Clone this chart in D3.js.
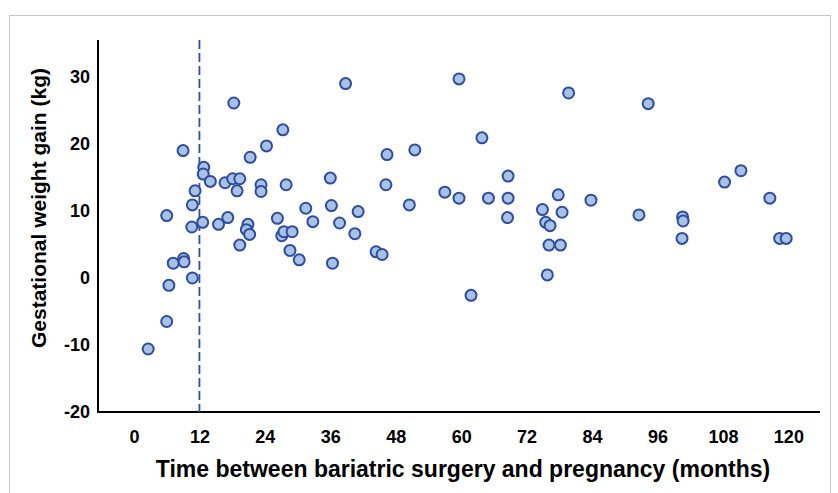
<!DOCTYPE html>
<html>
<head>
<meta charset="utf-8">
<script src="https://cdn.jsdelivr.net/npm/d3@7"></script>
<style>
  body { margin: 0; background: #fff; }
  .tick text { font-family: "Liberation Sans", Arial, sans-serif; font-weight: bold; }
</style>
</head>
<body>
<script>
// months between surgery and pregnancy
const months = [2.6, 6.0, 6.4, 6.0, 7.2, 9.0, 9.1, 9.2, 10.7, 10.7, 11.2, 10.6, 12.6, 12.8, 12.7, 14.0,
  15.5, 16.7, 17.2, 18.1, 19.4, 18.9, 18.3, 19.4, 20.9, 20.6, 21.2, 21.3, 23.3, 23.3, 24.3, 26.3,
  27.3, 27.9, 27.1, 27.5, 29.0, 28.6, 30.3, 31.5, 32.8, 36.0, 36.2, 36.4, 37.7, 38.8, 41.1, 40.5,
  44.4, 45.5, 46.4, 46.2, 50.5, 51.5, 57.0, 59.6, 59.6, 61.8, 63.8, 65.0, 68.6, 68.6, 68.5, 74.9,
  75.5, 76.3, 76.1, 75.8, 77.8, 78.5, 78.2, 79.7, 83.8, 92.6, 94.3, 100.6, 100.7, 100.5, 108.3,
  111.3, 116.6, 118.4, 119.6];
// gestational weight gain (kg)
const gain = [-10.6, -6.5, -1.1, 9.3, 2.2, 19.0, 2.9, 2.4, 0.0, 10.9, 13.0, 7.6, 8.3, 16.5, 15.5, 14.4,
  8.0, 14.2, 9.0, 14.8, 14.8, 13.0, 26.1, 4.9, 8.0, 7.2, 6.5, 18.0, 13.9, 12.9, 19.7, 8.9,
  22.1, 13.9, 6.3, 6.9, 6.9, 4.1, 2.7, 10.4, 8.4, 14.9, 10.8, 2.2, 8.2, 29.0, 9.9, 6.6,
  3.9, 3.5, 18.4, 13.9, 10.9, 19.1, 12.8, 29.7, 11.9, -2.6, 20.9, 11.9, 15.2, 11.9, 9.0, 10.2,
  8.3, 7.8, 4.9, 0.45, 12.4, 9.8, 4.9, 27.6, 11.6, 9.4, 26.0, 9.1, 8.5, 5.9, 14.3,
  16.0, 11.9, 5.9, 5.9];
const xTicks = [0, 12, 24, 36, 48, 60, 72, 84, 96, 108, 120];
const yTicks = [-20, -10, 0, 10, 20, 30];
const cutoff = 12;

const width = 838, height = 493;
const svg = d3.select("body").append("svg")
    .attr("width", width)
    .attr("height", height);

// light frame round the figure
svg.append("rect")
    .attr("x", 9.5).attr("y", 15.5)
    .attr("width", 821).attr("height", 490)
    .attr("fill", "none")
    .attr("stroke", "#c8c8c8");

const x = d3.scaleLinear().domain([-6.6, 125.8]).range([98, 820]);
const y = d3.scaleLinear().domain([-20, 35.5]).range([412, 40]);

// x axis
const gx = svg.append("g")
    .attr("transform", `translate(0,${y(-20)})`)
    .call(d3.axisBottom(x).tickValues(xTicks).tickSize(0).tickPadding(18).tickFormat(d => String(d)));
gx.select(".domain").attr("stroke", "#000").attr("stroke-width", 2)
    .attr("d", `M${x.range()[0]},0H${x.range()[1]}`);
gx.selectAll(".tick text").attr("font-size", 18).attr("fill", "#000");

// y axis
const gy = svg.append("g")
    .attr("transform", `translate(${x.range()[0]},0)`)
    .call(d3.axisLeft(y).tickValues(yTicks).tickSize(0).tickPadding(8).tickFormat(d => String(d)));
gy.select(".domain").attr("stroke", "#000").attr("stroke-width", 2)
    .attr("d", `M0,${y.range()[1]}V${y.range()[0] + 1}`);
gy.selectAll(".tick text").attr("font-size", 18).attr("fill", "#000");

// 12 month cut-off line
svg.append("line")
    .attr("x1", x(cutoff)).attr("x2", x(cutoff))
    .attr("y1", y.range()[1]).attr("y2", y(-20))
    .attr("stroke", "#2f4fa8")
    .attr("stroke-width", 1.8)
    .attr("stroke-dasharray", "9,4");

// points
svg.append("g")
    .selectAll("circle")
    .data(months.map((m, i) => ({ m: m, g: gain[i] })))
    .enter().append("circle")
    .attr("cx", d => x(d.m))
    .attr("cy", d => y(d.g))
    .attr("r", 5.5)
    .attr("fill", "#a8c2e6")
    .attr("stroke", "#2f4d9e")
    .attr("stroke-width", 2);

// axis titles
svg.append("text")
    .attr("x", 463).attr("y", 477)
    .attr("text-anchor", "middle")
    .attr("font-family", "'Liberation Sans', Arial, sans-serif")
    .attr("font-weight", "bold")
    .attr("font-size", 23)
    .text("Time between bariatric surgery and pregnancy (months)");

svg.append("text")
    .attr("transform", "translate(46,208) rotate(-90)")
    .attr("text-anchor", "middle")
    .attr("font-family", "'Liberation Sans', Arial, sans-serif")
    .attr("font-weight", "bold")
    .attr("font-size", 21)
    .text("Gestational weight gain (kg)");
</script>
</body>
</html>
